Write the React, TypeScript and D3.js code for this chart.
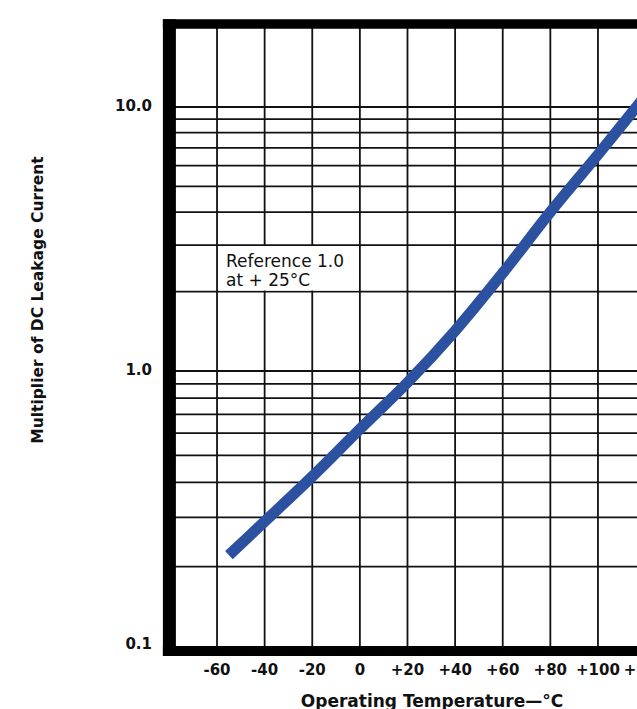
import React, { useEffect, useRef } from 'react'
import * as d3 from 'd3'

// Leakage current multiplier vs. operating temperature
const temps = [-55, -40, -20, 0, 20, 40, 60, 80, 100, 120]
const multipliers = [0.22, 0.29, 0.42, 0.62, 0.91, 1.42, 2.35, 4.0, 6.6, 11.0]

const xTicks = [-60, -40, -20, 0, 20, 40, 60, 80, 100, 120]
const xTickLabels = ['-60', '-40', '-20', '0', '+20', '+40', '+60', '+80', '+100', '+120']

const yTicks = [10, 1, 0.1]
const yTickLabels = ['10.0', '1.0', '0.1']
const yGrid = [0.2, 0.3, 0.4, 0.5, 0.6, 0.7, 0.8, 0.9, 1, 2, 3, 4, 5, 6, 7, 8, 9, 10]

const note = ['Reference 1.0', 'at + 25°C']

const App: React.FC = () => {
  const ref = useRef<SVGSVGElement | null>(null)

  useEffect(() => {
    if (!ref.current) return

    const width = 637
    const height = 709
    const font = '"DejaVu Sans", sans-serif'

    // temperature axis runs -80..+140, the right part falls outside the picture
    const x = d3.scaleLinear().domain([-80, 140]).range([169.4, 693.2])
    // the printed grid is not an exact log grid, each decade has its own length
    const y = d3.scaleLog().domain([0.1, 1, 10, 20]).range([651, 371, 107, 24])

    const svg = d3
      .select(ref.current)
      .attr('width', width)
      .attr('height', height)
      .attr('viewBox', [0, 0, width, height])
      .style('position', 'absolute')
      .style('left', '0px')
      .style('top', '0px')
      .style('background', '#fff')

    const [x0, x1] = x.domain().map(x)
    const yTop = y(20)
    const yBottom = y(0.1)

    // grid
    const grid = svg.append('g').attr('stroke', '#111').attr('stroke-width', 1.8)
    grid
      .selectAll('line.v')
      .data(xTicks)
      .join('line')
      .attr('x1', (d) => x(d))
      .attr('x2', (d) => x(d))
      .attr('y1', yTop)
      .attr('y2', yBottom)
    grid
      .selectAll('line.h')
      .data(yGrid)
      .join('line')
      .attr('x1', x0)
      .attr('x2', x1)
      .attr('y1', (d) => y(d))
      .attr('y2', (d) => y(d))

    // note box blanks out the grid cells between -60..0 and 2..3
    const bx = x(-60)
    const bw = x(0) - x(-60)
    const by = y(3)
    const bh = y(2) - y(3)
    svg
      .append('rect')
      .attr('x', bx + 1)
      .attr('y', by + 1)
      .attr('width', bw - 2)
      .attr('height', bh - 2)
      .attr('fill', '#fff')
    svg
      .append('g')
      .attr('font-family', font)
      .attr('font-size', 17)
      .attr('fill', '#111')
      .selectAll('text')
      .data(note)
      .join('text')
      .attr('x', bx + 9)
      .attr('y', (_d, i) => by + 22 + i * 19)
      .text((d) => d)

    // heavy frame
    const frame = svg.append('g').attr('stroke', '#000')
    frame
      .append('line')
      .attr('x1', x0)
      .attr('x2', x0)
      .attr('y1', yTop - 4.8)
      .attr('y2', yBottom + 5)
      .attr('stroke-width', 13)
    frame
      .append('line')
      .attr('x1', x0 - 6.5)
      .attr('x2', x1 + 5)
      .attr('y1', yTop)
      .attr('y2', yTop)
      .attr('stroke-width', 9.6)
    frame
      .append('line')
      .attr('x1', x0 - 6.5)
      .attr('x2', x1 + 5)
      .attr('y1', yBottom)
      .attr('y2', yBottom)
      .attr('stroke-width', 10)
    frame
      .append('line')
      .attr('x1', x1)
      .attr('x2', x1)
      .attr('y1', yTop - 4.8)
      .attr('y2', yBottom + 5)
      .attr('stroke-width', 13)

    // curve
    const line = d3
      .line<number>()
      .x((_d, i) => x(temps[i]))
      .y((d) => y(d))
      .curve(d3.curveCatmullRom.alpha(0.5))
    svg
      .append('path')
      .attr('d', line(multipliers))
      .attr('fill', 'none')
      .attr('stroke', '#2b51a0')
      .attr('stroke-width', 11)
      .attr('stroke-linecap', 'butt')
      .attr('stroke-linejoin', 'round')

    // tick labels
    svg
      .append('g')
      .attr('font-family', font)
      .attr('font-weight', 'bold')
      .attr('font-size', 15)
      .attr('fill', '#111')
      .attr('text-anchor', 'middle')
      .selectAll('text')
      .data(xTicks)
      .join('text')
      .attr('x', (d) => x(d))
      .attr('y', 675)
      .text((_d, i) => xTickLabels[i])

    svg
      .append('g')
      .attr('font-family', font)
      .attr('font-weight', 'bold')
      .attr('font-size', 15)
      .attr('fill', '#111')
      .attr('text-anchor', 'end')
      .selectAll('text')
      .data(yTicks)
      .join('text')
      .attr('x', 152)
      .attr('y', (d) => Math.min(y(d) + 4, yBottom - 2))
      .text((_d, i) => yTickLabels[i])

    // axis titles
    svg
      .append('text')
      .attr('font-family', font)
      .attr('font-weight', 'bold')
      .attr('font-size', 17)
      .attr('fill', '#111')
      .attr('text-anchor', 'middle')
      .attr('x', 432)
      .attr('y', 706.5)
      .text('Operating Temperature—°C')

    svg
      .append('text')
      .attr('font-family', font)
      .attr('font-weight', 'bold')
      .attr('font-size', 15.5)
      .attr('fill', '#111')
      .attr('text-anchor', 'middle')
      .attr('transform', 'translate(43,300) rotate(-90)')
      .text('Multiplier of DC Leakage Current')

    return () => {
      svg.selectAll('*').remove()
    }
  }, [])

  return <svg ref={ref} />
}

export default App
